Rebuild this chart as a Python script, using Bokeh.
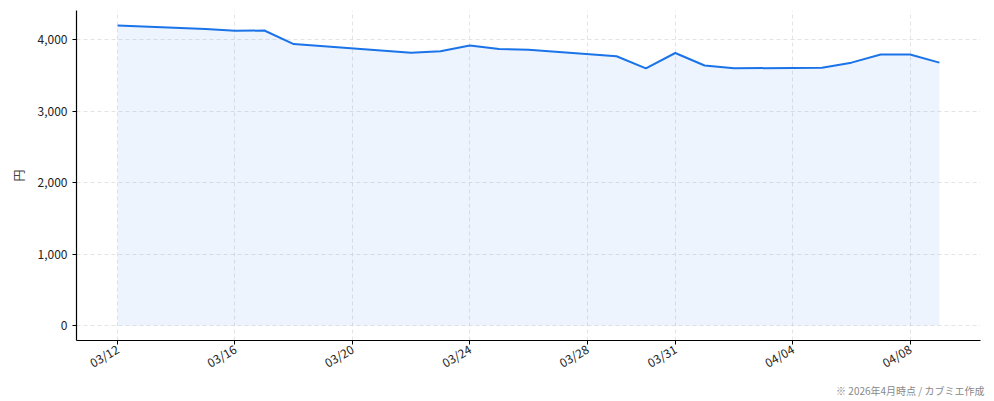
import numpy as np
import pandas as pd
from bokeh.plotting import figure
from bokeh.models import Range1d, FixedTicker, DatetimeTickFormatter, NumeralTickFormatter, Title, ColumnDataSource
from bokeh.embed import file_html
from bokeh.resources import INLINE

# ---- data ----
dates = ["2026-03-12", "2026-03-15", "2026-03-16", "2026-03-17", "2026-03-18",
         "2026-03-22", "2026-03-23", "2026-03-24", "2026-03-25", "2026-03-26",
         "2026-03-29", "2026-03-30", "2026-03-31", "2026-04-01", "2026-04-02",
         "2026-04-05", "2026-04-06", "2026-04-07", "2026-04-08", "2026-04-09"]
prices = [4200, 4150, 4125, 4130, 3940,
          3820, 3840, 3920, 3870, 3860,
          3770, 3600, 3815, 3640, 3600,
          3610, 3680, 3795, 3795, 3680]
x_ticks = ["2026-03-12", "2026-03-16", "2026-03-20", "2026-03-24",
           "2026-03-28", "2026-03-31", "2026-04-04", "2026-04-08"]
y_ticks = [0, 1000, 2000, 3000, 4000]
y_label = "円"
footnote = "※ 2026年4月時点 / カブミエ作成"

FONT = "Noto Sans CJK JP"
LINE = "#1a73e8"

x = pd.to_datetime(dates)
src = ColumnDataSource(dict(x=x, y=prices, y0=[0] * len(prices)))

span = x.max() - x.min()
xr = Range1d(start=x.min() - span * 0.05, end=x.max() + span * 0.05)
ymax = max(prices)
yr = Range1d(start=-ymax * 0.05, end=ymax * 1.05)

p = figure(width=986, height=397, x_axis_type="datetime", x_range=xr, y_range=yr,
           output_backend="svg", toolbar_location=None,
           min_border_left=76, min_border_right=6, min_border_top=10, min_border_bottom=30)
p.outline_line_color = None
p.background_fill_color = "white"

p.varea(x="x", y1="y0", y2="y", source=src, fill_color=LINE, fill_alpha=0.08)
p.line(x="x", y="y", source=src, line_color=LINE, line_width=2)

tick_ms = [pd.Timestamp(t).value / 1e6 for t in x_ticks]
p.xaxis.ticker = FixedTicker(ticks=tick_ms)
p.xaxis.formatter = DatetimeTickFormatter(days="%m/%d", months="%m/%d", hours="%m/%d")
p.xaxis.major_label_orientation = np.pi / 6
p.xaxis.major_label_standoff = 3
p.yaxis.ticker = FixedTicker(ticks=y_ticks)
p.yaxis.formatter = NumeralTickFormatter(format="0,0")
p.yaxis.axis_label = y_label
p.yaxis.axis_label_text_font = FONT
p.yaxis.axis_label_text_font_size = "12px"
p.yaxis.axis_label_text_font_style = "normal"
p.yaxis.axis_label_standoff = 8
p.yaxis.major_label_standoff = 5

for ax in (p.xaxis, p.yaxis):
    ax.axis_line_color = "black"
    ax.axis_line_width = 1.2
    ax.major_tick_line_color = "black"
    ax.major_tick_out = 4
    ax.major_tick_in = 0
    ax.minor_tick_line_color = None
    ax.major_label_text_font = FONT
    ax.major_label_text_font_size = "12px"
    ax.major_label_text_color = "#222222"

for g in (p.xgrid, p.ygrid):
    g.grid_line_color = "#dddddd"
    g.grid_line_dash = "4 3"
    g.grid_line_width = 1
    g.grid_line_alpha = 0.8

note = Title(text=footnote, align="right", text_font=FONT, text_font_size="10px",
             text_font_style="normal", text_color="#888888", standoff=0, offset=-4,
             padding=0)
p.add_layout(note, "below")

open("out.html", "w").write(file_html(p, INLINE))
